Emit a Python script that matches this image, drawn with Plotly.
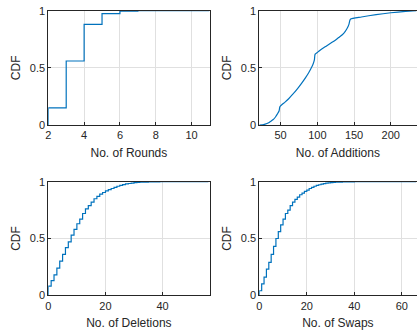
import plotly.graph_objects as go
from plotly.subplots import make_subplots

# ---- data ----
rounds_x = [2, 2, 3, 4, 5, 6, 7, 11]
rounds_cdf = [0, 0.15, 0.56, 0.88, 0.975, 0.995, 1.0, 1.0]

add_x = [21, 25, 29, 33, 36, 40, 43, 46, 48, 49, 52, 56, 61, 66, 72, 78, 84, 88, 91, 94, 96, 97,
         101, 106, 112, 118, 124, 129, 134, 138, 141, 143, 145, 160, 180, 200, 220, 235]
add_cdf = [0, 0.002, 0.008, 0.017, 0.03, 0.048, 0.07, 0.1, 0.125, 0.16, 0.18, 0.2, 0.23, 0.265, 0.31,
           0.36, 0.415, 0.455, 0.49, 0.53, 0.57, 0.62, 0.64, 0.665, 0.69, 0.715, 0.74, 0.765,
           0.79, 0.82, 0.85, 0.88, 0.925, 0.945, 0.966, 0.982, 0.994, 1.0]

del_x = list(range(0, 57))
del_cdf = [0.08, 0.13, 0.18, 0.24, 0.30, 0.36, 0.42, 0.47, 0.53, 0.58, 0.63, 0.67, 0.72, 0.76, 0.79,
           0.82, 0.85, 0.87, 0.89, 0.905, 0.92, 0.93, 0.94, 0.95, 0.96, 0.967, 0.974, 0.98, 0.984,
           0.988, 0.991, 0.993, 0.995, 0.996, 0.997, 0.998, 0.9985, 0.999, 0.9993, 0.9995, 0.9997,
           0.9998, 0.9999, 0.9999, 1, 1, 1, 1, 1, 1, 1, 1, 1, 1, 1, 1, 1]

swp_x = list(range(0, 67))
swp_cdf = [0.04, 0.10, 0.16, 0.23, 0.29, 0.36, 0.43, 0.50, 0.56, 0.62, 0.67, 0.72, 0.75, 0.79, 0.82,
           0.845, 0.865, 0.885, 0.90, 0.915, 0.925, 0.94, 0.95, 0.96, 0.967, 0.973, 0.978, 0.983,
           0.987, 0.99, 0.992, 0.994, 0.995, 0.996, 0.997, 0.998, 0.9985, 0.9988, 0.999, 0.9993,
           0.9995, 0.9997, 0.9998, 0.9999, 0.9999] + [1] * 22

titles = ["No. of Rounds", "No. of Additions", "No. of Deletions", "No. of Swaps"]
ytick_vals = [0, 0.5, 1]
ytick_text = ["0", "0.5", "1"]
xticks = [[2, 4, 6, 8, 10], [50, 100, 150, 200], [0, 20, 40], [0, 20, 40, 60]]
xranges = [[2, 11], [21, 235], [0, 56.4], [0, 66.2]]

BLUE = "#0072BD"
FONT = "Liberation Sans, Arial, Helvetica, sans-serif"

fig = make_subplots(rows=2, cols=2)

def stairs(xs, ys):
    return [xs[0]] + list(xs), [0] + list(ys)

fig.add_trace(go.Scatter(x=rounds_x, y=rounds_cdf, mode="lines", line=dict(color=BLUE, width=1.2, shape="hv")), row=1, col=1)
fig.add_trace(go.Scatter(x=add_x, y=add_cdf, mode="lines", line=dict(color=BLUE, width=1.2, shape="spline", smoothing=0.6)), row=1, col=2)
dx, dy = stairs(del_x, del_cdf)
fig.add_trace(go.Scatter(x=dx, y=dy, mode="lines", line=dict(color=BLUE, width=1.2, shape="hv")), row=2, col=1)
wx, wy = stairs(swp_x, swp_cdf)
fig.add_trace(go.Scatter(x=wx, y=wy, mode="lines", line=dict(color=BLUE, width=1.2, shape="hv")), row=2, col=2)

W, H = 417, 335
xdoms = [[48.3 / W, 209.5 / W], [259.3 / W, 416.5 / W]]
ydoms = [[1 - 125 / H, 1 - 10.7 / H], [1 - 295.3 / H, 1 - 181.7 / H]]

for i in range(4):
    r, c = divmod(i, 2)
    n = "" if i == 0 else str(i + 1)
    fig.layout["xaxis" + n].update(
        domain=xdoms[c], range=xranges[i], tickvals=xticks[i],
        title=dict(text=titles[i], font=dict(size=12, color="#262626"), standoff=8),
        showgrid=True, gridcolor="#e0e0e0", gridwidth=1, zeroline=False,
        showline=True, mirror=True, linecolor="#262626", linewidth=1,
        ticks="inside", ticklen=3, tickcolor="#262626",
        tickfont=dict(size=11, color="#262626"), automargin=False,
    )
    fig.layout["yaxis" + n].update(
        domain=ydoms[r], range=[0, 1], tickvals=ytick_vals, ticktext=ytick_text,
        title=dict(text="CDF", font=dict(size=12, color="#262626"), standoff=6),
        showgrid=True, gridcolor="#e0e0e0", gridwidth=1, zeroline=False,
        showline=True, mirror=True, linecolor="#262626", linewidth=1,
        ticks="inside", ticklen=3, tickcolor="#262626",
        tickfont=dict(size=11, color="#262626"), automargin=False,
    )

fig.update_layout(
    width=W, height=H, margin=dict(l=0, r=0, t=0, b=0),
    paper_bgcolor="white", plot_bgcolor="white", showlegend=False,
    font=dict(family=FONT, color="#262626"),
)

fig.write_html("out.html", config={"displayModeBar": False},
               post_script="document.body.style.margin='0';document.body.style.overflow='hidden';")
